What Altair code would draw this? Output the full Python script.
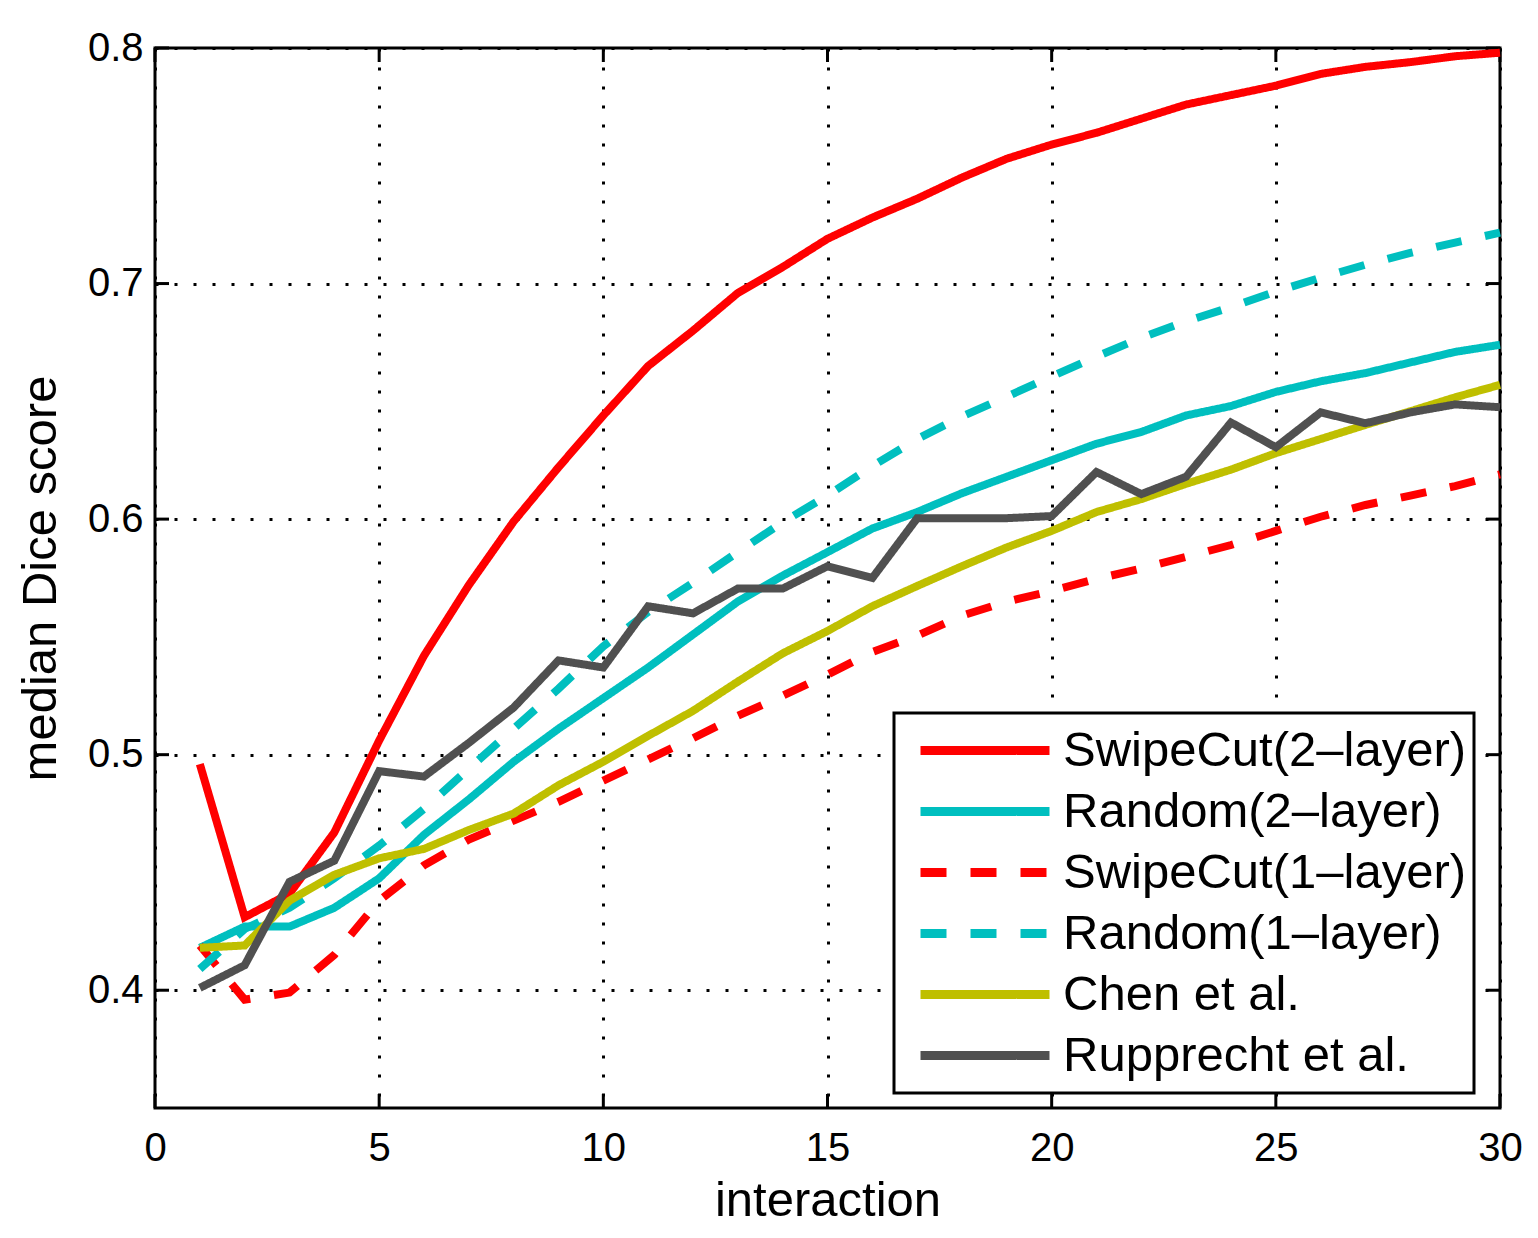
import altair as alt
import pandas as pd

interaction = list(range(1, 31))

series_names = ["SwipeCut(2–layer)", "Random(2–layer)", "SwipeCut(1–layer)",
                "Random(1–layer)", "Chen et al.", "Rupprecht et al."]
series_colors = ["#FF0000", "#00BFBF", "#FF0000", "#00BFBF", "#BFBF00", "#505050"]
series_dash = [[1, 0], [1, 0], [26, 24], [26, 24], [1, 0], [1, 0]]

swipecut_2layer = [0.496, 0.431, 0.441, 0.467, 0.506, 0.542, 0.572, 0.599, 0.622, 0.644,
                   0.665, 0.680, 0.696, 0.707, 0.719, 0.728, 0.736, 0.745, 0.753, 0.759,
                   0.764, 0.770, 0.776, 0.780, 0.784, 0.789, 0.792, 0.794, 0.7965, 0.798]
random_2layer = [0.418, 0.427, 0.427, 0.435, 0.4475, 0.466, 0.481, 0.497, 0.511, 0.524,
                 0.537, 0.551, 0.565, 0.576, 0.586, 0.596, 0.603, 0.611, 0.618, 0.625,
                 0.632, 0.637, 0.644, 0.648, 0.654, 0.6585, 0.662, 0.6665, 0.671, 0.674]
swipecut_1layer = [0.419, 0.396, 0.399, 0.415, 0.438, 0.453, 0.464, 0.472, 0.480, 0.489,
                   0.498, 0.507, 0.5165, 0.525, 0.534, 0.5436, 0.5505, 0.559, 0.565, 0.5695,
                   0.5746, 0.579, 0.584, 0.589, 0.595, 0.601, 0.606, 0.610, 0.614, 0.619]
random_1layer = [0.409, 0.426, 0.435, 0.4475, 0.4614, 0.477, 0.494, 0.511, 0.528, 0.546,
                 0.5606, 0.573, 0.586, 0.5987, 0.610, 0.6225, 0.634, 0.6436, 0.652, 0.6606,
                 0.669, 0.677, 0.684, 0.690, 0.6966, 0.7025, 0.708, 0.713, 0.7174, 0.7216]
chen = [0.418, 0.419, 0.438, 0.449, 0.456, 0.460, 0.468, 0.475, 0.487, 0.497,
        0.508, 0.5186, 0.531, 0.543, 0.5525, 0.563, 0.5716, 0.580, 0.588, 0.595,
        0.603, 0.6085, 0.615, 0.621, 0.628, 0.634, 0.640, 0.6458, 0.6517, 0.657]
rupprecht = [0.401, 0.4106, 0.446, 0.455, 0.493, 0.4907, 0.505, 0.520, 0.540, 0.537,
             0.563, 0.560, 0.5705, 0.5705, 0.580, 0.575, 0.6004, 0.6004, 0.6004, 0.6013,
             0.620, 0.6106, 0.618, 0.641, 0.6305, 0.6453, 0.6407, 0.6453, 0.6487, 0.6475]

x_ticks = [0, 5, 10, 15, 20, 25, 30]
y_ticks = [0.4, 0.5, 0.6, 0.7, 0.8]

all_series = [swipecut_2layer, random_2layer, swipecut_1layer, random_1layer, chen, rupprecht]
rows = []
for name, vals in zip(series_names, all_series):
    for xi, yi in zip(interaction, vals):
        rows.append({"series": name, "interaction": xi, "dice": yi})
df = pd.DataFrame(rows)

FONT = "Liberation Sans"
W, H = 1345, 1060

x_scale = alt.Scale(domain=[0, 30], nice=False, zero=False)
y_scale = alt.Scale(domain=[0.35, 0.8], nice=False, zero=False)

lines = alt.Chart(df).mark_line(strokeWidth=8, strokeCap="butt", strokeJoin="miter").encode(
    x=alt.X("interaction:Q", scale=x_scale,
            axis=alt.Axis(values=x_ticks, title="interaction", format="d",
                          tickSize=0, domain=False, labelPadding=20, titlePadding=8,
                          labelFlush=False, labelOverlap=False,
                          grid=True, gridDash=[3, 16], gridColor="black",
                          gridWidth=3, gridOpacity=1)),
    y=alt.Y("dice:Q", scale=y_scale,
            axis=alt.Axis(values=y_ticks, title="median Dice score", format=".1f",
                          tickSize=0, domain=False, labelPadding=12, titlePadding=22,
                          labelFlush=False, labelOverlap=False,
                          grid=True, gridDash=[3, 16], gridColor="black",
                          gridWidth=3, gridOpacity=1)),
    color=alt.Color("series:N", title=None,
                    scale=alt.Scale(domain=series_names, range=series_colors),
                    legend=alt.Legend(orient="none", legendX=739, legendY=665)),
    strokeDash=alt.StrokeDash("series:N", title=None,
                              scale=alt.Scale(domain=series_names, range=series_dash),
                              legend=alt.Legend(orient="none", legendX=739, legendY=665)),
)

xt = pd.DataFrame({"t": x_ticks})
yt = pd.DataFrame({"t": y_ticks})

tick_bottom = alt.Chart(xt).mark_rule(color="black", strokeWidth=3, y2Offset=-14).encode(
    x=alt.X("t:Q", scale=x_scale), y=alt.datum(0.35), y2=alt.datum(0.35))
tick_top = alt.Chart(xt).mark_rule(color="black", strokeWidth=3, y2Offset=14).encode(
    x=alt.X("t:Q", scale=x_scale), y=alt.datum(0.8), y2=alt.datum(0.8))
tick_left = alt.Chart(yt).mark_rule(color="black", strokeWidth=3, x2Offset=14).encode(
    y=alt.Y("t:Q", scale=y_scale), x=alt.datum(0), x2=alt.datum(0))
tick_right = alt.Chart(yt).mark_rule(color="black", strokeWidth=3, x2Offset=-14).encode(
    y=alt.Y("t:Q", scale=y_scale), x=alt.datum(30), x2=alt.datum(30))

chart = alt.layer(tick_bottom, tick_top, tick_left, tick_right, lines).properties(
    width=W, height=H,
    autosize=alt.AutoSizeParams(type="none"),
    padding={"left": 147, "top": 40, "right": 30, "bottom": 125},
    background="white",
).configure_view(
    stroke="black", strokeWidth=3, fill="white"
).configure_axis(
    labelFont=FONT, titleFont=FONT, labelFontSize=40, titleFontSize=49,
    labelColor="black", titleColor="black", titleFontWeight="normal",
).configure_legend(
    labelFont=FONT, labelFontSize=49, labelColor="black", labelLimit=1000,
    symbolType="stroke", symbolSize=16641, symbolStrokeWidth=9,
    clipHeight=61, rowPadding=0, padding=7, symbolOffset=15, labelOffset=9,
    strokeColor="black", strokeWidth=3, fillColor="white",
)

chart.save("out.html", embed_options={"renderer": "svg", "actions": False})
